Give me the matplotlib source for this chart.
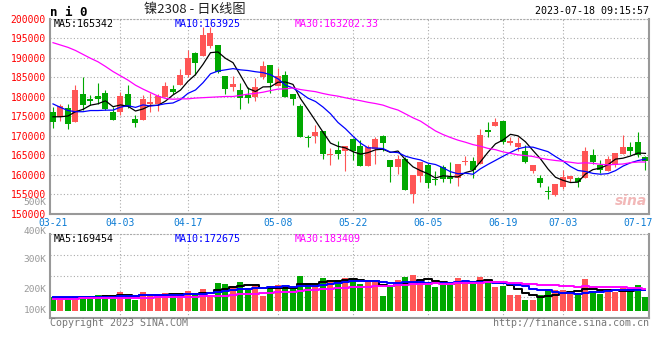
import numpy as np
import pandas as pd
import matplotlib
matplotlib.use("Agg")
import matplotlib.pyplot as plt
from matplotlib.transforms import ScaledTranslation

# daily K-line for ni2308, 2023-03-21 .. 2023-07-18 (80 sessions)
opens = [176100, 174800, 177000, 173500, 180600, 179300, 180100, 180800, 176100, 176000,
         180600, 174200, 174100, 178000, 178200, 179800, 181800, 182900, 185500, 191200,
         190400, 192900, 193200, 185300, 182500, 181700, 180400, 180000, 185100, 188100,
         182700, 185500, 180600, 177600, 169400, 169900, 171200, 164900, 166300, 165900,
         169000, 167300, 162200, 166500, 169900, 163700, 162000, 163900, 155000, 159600,
         162400, 158800, 162000, 159400, 159000, 163100, 163500, 162700, 171400, 172400,
         173800, 168200, 167100, 166100, 161000, 159000, 155600, 154700, 156700, 158800,
         159200, 159000, 165000, 162400, 161000, 162400, 165300, 167000, 168400, 164400]
highs = [177200, 178200, 178200, 182900, 184900, 180400, 183500, 181700, 177200, 181200,
         182900, 175300, 180400, 181000, 180600, 183800, 182900, 187000, 191900, 191500,
         197900, 197900, 193200, 185300, 185300, 183400, 182500, 184700, 189200, 188100,
         187200, 186600, 180600, 178100, 170100, 172700, 171200, 166700, 168700, 167300,
         169300, 168800, 167600, 169500, 170100, 163700, 165000, 164600, 159900, 163200,
         162900, 161000, 162400, 163300, 162700, 164700, 164600, 171600, 173500, 174400,
         173800, 169500, 169700, 167600, 162400, 159900, 157100, 157600, 161200, 159600,
         159400, 167100, 166500, 163700, 164700, 165600, 170100, 168400, 171000, 164700]
lows = [171800, 173800, 171600, 173500, 176500, 177800, 178200, 176500, 174000, 175300,
        177000, 172100, 174100, 176100, 176400, 179800, 180600, 182900, 185100, 185500,
        190400, 192400, 186100, 180600, 181500, 176700, 178400, 178900, 184400, 181000,
        182700, 179800, 177800, 169500, 167100, 168000, 163900, 162400, 163900, 161000,
        163700, 162200, 162200, 162700, 166100, 158200, 160100, 155900, 152800, 158200,
        156500, 157300, 158200, 157700, 157100, 162400, 159000, 162700, 169500, 172400,
        167800, 167600, 165900, 162900, 160500, 156700, 153600, 154600, 156200, 158200,
        156900, 159000, 162700, 160500, 161000, 161800, 165300, 165000, 164600, 161200]
closes = [173500, 177600, 172900, 181700, 177800, 178900, 179400, 176700, 174100, 180100,
          177200, 173300, 179300, 178700, 180100, 182700, 181200, 185500, 190000, 188700,
          195800, 196200, 186400, 181800, 183200, 179500, 179500, 182400, 187700, 183400,
          185300, 179800, 179300, 169500, 169300, 171000, 165300, 165200, 165300, 167300,
          166100, 162200, 167100, 169000, 168000, 162000, 164000, 155900, 159900, 163200,
          157900, 158600, 158800, 158900, 162700, 163500, 161200, 170100, 171000, 173500,
          168400, 168500, 168200, 163300, 162400, 157700, 155500, 157600, 159300, 159600,
          158200, 165900, 163300, 161200, 163900, 165400, 167100, 166100, 165000, 163500]
volumes = [113000, 113000, 101000, 123000, 118000, 118000, 132000, 132000, 132000, 156000,
           123000, 90000, 156000, 139000, 132000, 148000, 123000, 139000, 165000, 139000,
           180000, 132000, 230000, 222000, 205000, 238000, 189000, 205000, 123000, 205000,
           213000, 197000, 189000, 288000, 230000, 213000, 271000, 246000, 255000, 271000,
           262000, 222000, 238000, 238000, 123000, 205000, 255000, 279000, 295000, 238000,
           230000, 197000, 213000, 230000, 271000, 230000, 230000, 279000, 255000, 197000,
           205000, 132000, 132000, 90000, 90000, 132000, 180000, 172000, 172000, 139000,
           148000, 262000, 165000, 139000, 156000, 156000, 189000, 180000, 213000, 115000]

# moving-average values at the left edge (window reaches before the first session),
# read off the chart
ma5_head = [174800, 174800, 175000, 176100]
ma10_head = [178100, 177200, 176400, 176100, 176100, 176400, 176400, 176500, 176500]
ma30_head = [193800, 193200, 192600, 191800, 190800, 189800, 188900, 187700, 186400, 185300,
             184200, 182900, 181900, 181000, 180100, 179500, 179300, 179400, 179400, 179600,
             179700, 179800, 179900, 180000, 180000, 180300, 180600, 180800, 181100]
vol_ma5_head = [105000, 106000, 108000, 110000]
vol_ma10_head = [112000, 112000, 113000, 113000, 114000, 114000, 115000, 116000, 117000]
vol_ma30_head = [101000, 101000, 102000, 102000, 103000, 103000, 104000, 104000, 105000, 106000,
                 107000, 108000, 109000, 110000, 111000, 112000, 113000, 114000, 115000, 116000,
                 119000, 121000, 124000, 127000, 130000, 137000, 140000, 143000, 146000]

tick_idx = [0, 9, 18, 30, 40, 50, 60, 68, 78]
tick_labels = ["03-21", "04-03", "04-17", "05-08", "05-22", "06-05", "06-19", "07-03", "07-17"]

RED = "#ff5555"
GREEN = "#00a800"
GRID = "#aaaaaa"
BORDER = "#999999"
MONO = "DejaVu Sans Mono"


def moving_avg(values, window, head):
    ma = pd.Series(values, dtype=float).rolling(window).mean().to_numpy()
    ma[:len(head)] = head
    return ma


def px(x, y):
    # pixel position of the 660x360 picture -> figure fraction
    return x / 660, 1 - y / 360


fig = plt.figure(figsize=(6.6, 3.6), dpi=100, facecolor="white")
ax = fig.add_axes([50 / 660, 146.5 / 360, 599 / 660, 195 / 360])
axv = fig.add_axes([50 / 660, 42 / 360, 599 / 660, 84 / 360])

n = len(closes)
x = np.arange(n)
o = np.array(opens)
c = np.array(closes)
colors = np.where(c >= o, RED, GREEN)

# candles
ax.vlines(x, lows, highs, colors=colors, linewidth=0.8, zorder=2)
body = np.maximum(np.abs(c - o), 250)
ax.bar(x, body, bottom=np.minimum(o, c), width=0.8, color=colors, linewidth=0, zorder=3)

ax.plot(x, moving_avg(closes, 5, ma5_head), color="black", lw=0.9, zorder=4)
ax.plot(x, moving_avg(closes, 10, ma10_head), color="#0000ff", lw=0.9, zorder=4)
ax.plot(x, moving_avg(closes, 30, ma30_head), color="#ff00ff", lw=0.9, zorder=4)

ax.set_xlim(-0.4, 79.47)
ax.set_ylim(150000, 200000)
ax.set_yticks(range(150000, 200001, 5000))
ax.set_yticklabels([str(v) for v in range(150000, 200001, 5000)],
                   color="#ff0000", fontsize=7, family=MONO)
shift = ScaledTranslation(0, 0.02, fig.dpi_scale_trans)
for lab in ax.get_yticklabels():
    lab.set_transform(lab.get_transform() + shift)
ax.set_xticks(tick_idx)
ax.set_xticklabels(tick_labels, color="#0b7bd4", fontsize=7, family=MONO)
ax.tick_params(length=0, pad=3)
ax.grid(axis="y", linestyle=(0, (1, 2)), color=GRID, lw=0.8, zorder=0)

# volume
axv.bar(x, volumes, width=0.8, color=colors, linewidth=0, zorder=2)
axv.plot(x, moving_avg(volumes, 5, vol_ma5_head), color="black", lw=1.4,
         drawstyle="steps-mid", zorder=3)
axv.plot(x, moving_avg(volumes, 10, vol_ma10_head), color="#0000ff", lw=1.4,
         drawstyle="steps-mid", zorder=3)
axv.plot(x, moving_avg(volumes, 30, vol_ma30_head), color="#ff00ff", lw=1.4,
         drawstyle="steps-mid", zorder=3)
axv.set_xlim(-0.4, 79.47)
axv.set_ylim(-57500, 632000)
axv.set_xticks([])
axv.set_yticks([])
for frac in (0.25, 0.5, 0.75):
    axv.axhline(-57500 + frac * 689500, linestyle=(0, (1, 2)), color=GRID, lw=0.8, zorder=0)

for a in (ax, axv):
    for t in tick_idx[1:-1]:
        a.axvline(t, linestyle=(0, (1, 2)), color=GRID, lw=0.8, zorder=0)
    for side in ("left", "right", "bottom"):
        a.spines[side].set_color(BORDER)
        a.spines[side].set_linewidth(1.5)
    a.spines["top"].set_color(GRID)
    a.spines["top"].set_linestyle((0, (1, 2)))
    a.spines["top"].set_linewidth(0.8)

# volume axis labels (placed as on the original)
for lab, yy in [("500K", 202.5), ("400K", 231), ("300K", 260), ("200K", 290), ("100K", 310.5)]:
    fig.text(*px(46.5, yy), lab, ha="right", va="center", fontsize=6.8, family=MONO,
             color="#999999")

# header
fig.text(*px(50, 12), "n i 0", ha="left", va="center", fontsize=9, family=MONO,
         fontweight="bold", color="black")
fig.text(*px(195, 10), "镍2308 - 日K线图", ha="center", va="center", fontsize=9.5,
         family=["Noto Sans CJK SC", "DejaVu Sans"], color="#222222")
fig.text(*px(649, 11), "2023-07-18 09:15:57", ha="right", va="center", fontsize=7.2,
         family=MONO, color="black")

for yy, labels in [(24, ["MA5:165342", "MA10:163925", "MA30:163202.33"]),
                   (238.5, ["MA5:169454", "MA10:172675", "MA30:183409"])]:
    for xx, lab, col in zip((54, 175, 295), labels, ("black", "#0000ff", "#ff00ff")):
        fig.text(*px(xx, yy), lab, ha="left", va="center", fontsize=7.2, family=MONO,
                 color=col, zorder=5)

fig.text(*px(631, 201), "sina", ha="center", va="center", fontsize=10, fontweight="bold",
         style="italic", color="#f2b8b8")

fig.text(*px(50, 323.5), "Copyright 2023 SINA.COM", ha="left", va="center", fontsize=7.2,
         family=MONO, color="#777777")
fig.text(*px(649, 323.5), "http://finance.sina.com.cn", ha="right", va="center",
         fontsize=7.2, family=MONO, color="#777777")

fig.savefig("out.png", dpi=100, facecolor="white")
